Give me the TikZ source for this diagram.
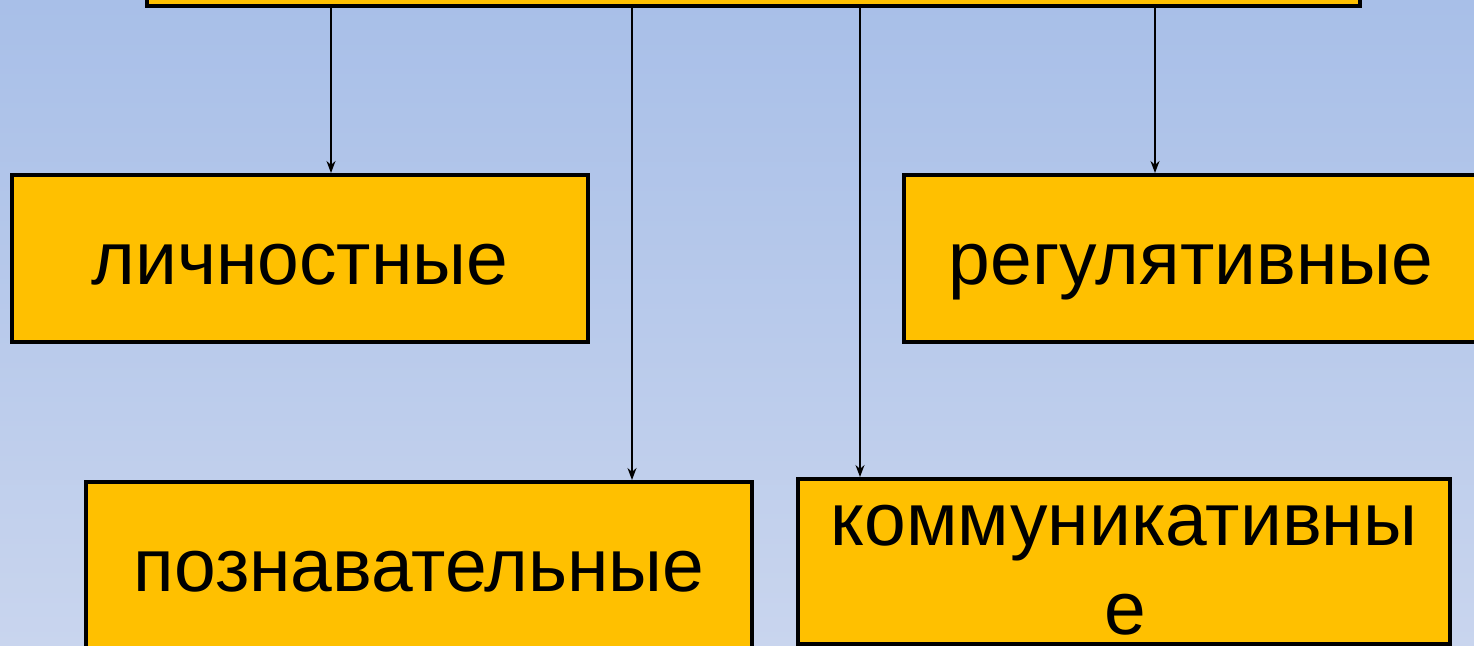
\documentclass[tikz,border=0pt]{standalone}
\usepackage{fontspec}
\setmainfont{Liberation Sans}
\usetikzlibrary{arrows.meta}
\definecolor{boxyellow}{HTML}{FFC000}
\definecolor{bgtop}{HTML}{A8BFE8}
\definecolor{bgbot}{HTML}{C9D5EE}
\tikzset{
  box/.style={draw=black, line width=2pt, fill=boxyellow, inner sep=0pt, font=\fontsize{37.5}{45}\selectfont, text=black, align=center},
  boxtext/.style={inner sep=0pt, font=\fontsize{37.5}{45}\selectfont, text=black, anchor=base},
  arr/.style={-{Stealth[length=6pt,width=4.5pt]}, line width=0.75pt, black}
}
\begin{document}
\begin{tikzpicture}[x=0.5pt,y=-0.5pt]
\useasboundingbox (0,0) rectangle (1474,646);
\clip (0,0) rectangle (1474,646);
\shade[top color=bgtop, bottom color=bgbot] (0,0) rectangle (1474,646);
% top box
\node[box, minimum width=606.5pt, minimum height=60pt] (top) at (753.5,-54) {};
% boxes
\node[box, minimum width=288pt, minimum height=83.5pt, text height=26.5pt, text depth=0pt] (l) at (300,258.5) {личностные};
\node[box, minimum width=287pt, minimum height=83.5pt, text height=26.5pt, text depth=0pt] (r) at (1191,258.5) {регулятивные};
\node[box, minimum width=333pt, minimum height=88pt, text height=22pt, text depth=0pt] (p) at (419,570) {познавательные};
\node[box, minimum width=326pt, minimum height=82.5pt] (k) at (1124,561.5) {};
\node[boxtext] (k1) at (1124,546) {коммуникативны};
\node[boxtext] (k2) at (1125,635) {е};
% arrow x positions
\coordinate (a1) at (331,0);
\coordinate (a2) at (632,0);
\coordinate (a3) at (860,0);
\coordinate (a4) at (1155,0);
\draw[arr] (top.south -| a1) -- (l.north -| a1);
\draw[arr] (top.south -| a2) -- (p.north -| a2);
\draw[arr] (top.south -| a3) -- (k.north -| a3);
\draw[arr] (top.south -| a4) -- (r.north -| a4);
\end{tikzpicture}
\end{document}
